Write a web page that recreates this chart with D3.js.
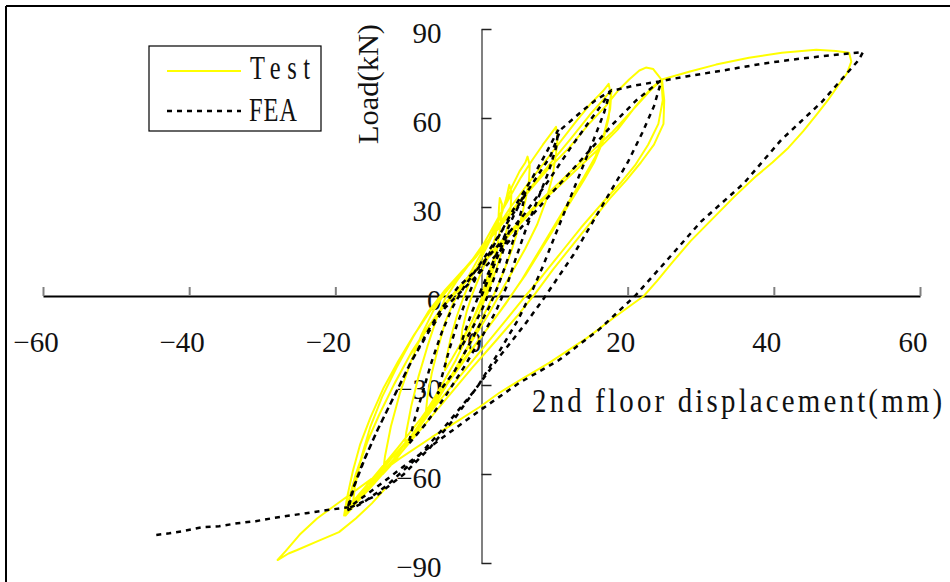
<!DOCTYPE html>
<html>
<head>
<meta charset="utf-8">
<script src="https://cdn.jsdelivr.net/npm/d3@7"></script>
<style>
  html, body { margin: 0; padding: 0; background: #fff; }
  svg { display: block; }
</style>
</head>
<body>
<svg id="chart" width="950" height="582"></svg>
<script>
// ---------- data ----------
const xTicks = [-60, -40, -20, 0, 20, 40, 60];
const yTicks = [-90, -60, -30, 0, 30, 60, 90];
const seriesNames = ["Test", "FEA"];
const xTitle = "2nd floor displacement(mm)";
const yTitle = "Load(kN)";

// Test hysteresis (displacement mm, load kN)
const testCurve = [
  [0,0],[0.6,5],[1.3,10],[2.0,15],[2.2,17],[2.0,13],[1.4,7],[0.6,1],[-0.6,-5],[-1.8,-11],[-2.8,-15],
  [-2.6,-11],[-2.0,-5],[-1.2,1],[-0.2,7],[0.9,13],[1.8,19],[2.3,25],[2.4,30],[2.5,33],[2.8,31],[2.7,26],
  [2.4,20],[1.8,13],[1.0,6],[0.0,-1],[-1.2,-8],[-2.6,-15],[-4.0,-21],[-5.0,-25],[-4.8,-21],[-4.2,-14],
  [-3.4,-7],[-2.4,0],[-1.2,7],[0.2,14],[1.6,21],[2.8,28],[3.4,33],[3.8,37.5],[4.1,35],[4.0,30],[3.6,24],
  [2.9,16],[2.0,9],[1.0,2],[-0.4,-6],[-2.0,-14],[-3.6,-22],[-5.2,-29],[-6.6,-35],[-7.6,-39],
  [-7.4,-34],[-6.8,-26],[-6.0,-18],[-5.0,-9],[-3.8,-2],[-2.4,4],[-0.8,11],[0.8,18],[2.2,25],[3.2,31],
  [4.2,37],[5.2,42],[6.0,45],[6.3,47],[6.6,44],[6.5,39],[6.0,32],[5.2,24],[4.2,16],[3.0,8],[1.8,1],
  [0.4,-6],[-1.2,-14],[-3.0,-22],[-5.0,-31],[-7.0,-39],[-9.0,-46],[-10.5,-51],
  [-10.3,-46],[-9.6,-37],[-8.6,-27],[-7.4,-17],[-6.2,-8],[-5.0,-1],[-3.4,5],[-1.6,11],[0.4,18],[2.2,26],
  [3.8,33],[5.4,40],[7.0,46],[8.4,51],[9.6,55],[10.2,57],[10.4,53],[10.2,48],[9.7,40],[8.8,32],[7.6,24],
  [6.0,16],[4.4,9],[2.8,2],[1.0,-6],[-1.0,-14],[-3.2,-23],[-5.4,-32],[-7.6,-41],[-9.8,-49],[-12.0,-56],[-13.5,-60],
  [-13.2,-54],[-12.4,-44],[-11.2,-33],[-9.8,-23],[-8.2,-13],[-6.6,-5],[-5.0,1],[-3.0,7],[-0.8,13],[1.6,21],
  [4.0,30],[6.4,38],[8.6,45],[10.8,52],[13.0,59],[15.0,65],[16.6,69],[17.4,71.5],[17.7,68],[17.4,60],
  [16.6,52],[15.4,45],[14.0,39],[12.0,31],[10.0,23],[8.0,15],[6.0,7],[4.0,0],[2.0,-7],[-0.4,-15],[-3.0,-24],
  [-6.0,-34],[-9.0,-45],[-12.0,-55],[-14.8,-63],[-16.6,-68],[-17.6,-70],
  [-17.3,-64],[-16.4,-54],[-15.2,-44],[-13.6,-34],[-11.6,-24],[-9.4,-14],[-7.2,-5],[-5.0,2],[-2.4,9],[0.4,17],
  [3.2,26],[6.2,35],[9.2,44],[12.2,53],[14.8,61],[16.6,66],[17.8,69.5],[17.6,63],[16.8,55],[15.6,47],[14.0,40],
  [12.0,32],[9.8,23],[7.6,14],[5.4,5],[3.2,-3],[0.8,-11],[-2.0,-20],[-5.0,-30],[-8.2,-41],[-11.4,-51],
  [-14.4,-60],[-16.8,-67],[-18.2,-71],[-18.8,-74],
  [-18.4,-68],[-17.6,-59],[-16.6,-50],[-15.2,-41],[-13.4,-31],[-11.4,-22],[-9.2,-13],[-7.0,-5],[-4.8,2],
  [-2.4,9],[0.4,17],[3.4,26],[6.4,35],[9.2,43],[12.0,50],[14.7,58],[17.0,64],[18.6,69],[20.2,73],[21.6,76],
  [22.5,77],[23.5,76.5],[24.6,73],[24.8,66],[24.2,58],[22.8,51],[21.0,44],[19.0,38],[16.4,31],[13.6,23],
  [11.0,15],[8.4,7],[6.0,0],[3.4,-8],[0.4,-17],[-2.6,-26],[-6.0,-36],[-9.2,-46],[-12.4,-55],[-15.4,-64],
  [-17.6,-70],[-18.6,-74],
  [-18.2,-69],[-17.2,-60],[-15.8,-50],[-14.0,-40],[-12.0,-30],[-9.8,-20],[-7.4,-11],[-5.0,-3],[-2.4,4],
  [0.6,12],[4.0,21],[7.4,30],[10.6,37],[13.6,44],[16.2,50],[18.6,56],[21.1,64],[23.2,70],[24.7,73],[25.0,66],
  [24.9,58],[23.6,51],[21.8,45],[19.8,39],[17.6,33],[15.0,25],[12.4,17],[9.8,9],[7.4,1],[4.8,-7],[2.0,-15],
  [-1.2,-24],[-4.6,-34],[-8.0,-44],[-11.4,-54],[-14.6,-63],[-17.2,-70],[-18.6,-74],
  [-18.0,-68],[-17.0,-59],[-15.6,-49],[-13.8,-39],[-11.8,-29],[-9.6,-19],[-7.2,-10],[-4.8,-2],[-2.0,6],
  [1.0,14],[4.4,23],[8.0,32],[11.4,40],[14.8,48],[17.8,55],[20.8,63],[23.0,69],[24.7,73],[28.4,75.6],
  [32.1,78],[36.6,80.3],[41.1,82],[45.8,83],[48.5,82.6],[50.3,82],[50.6,79],[50.0,75],[48.8,71],[47.4,66],
  [45.8,61],[44.0,55.5],[42.0,50],[39.8,45],[37.4,40],[34.6,33.5],[31.6,26],[28.6,18.5],[26.0,11],[24.0,5],
  [22.2,0],[18.0,-7.5],[14.4,-14.2],[9.2,-22.6],[5.5,-28],[2.4,-32.7],[-0.3,-37.5],[-3.5,-42.5],[-6.8,-47.6],
  [-11.3,-55],[-15.8,-63],[-20.4,-71.2],[-22.5,-75],[-24.9,-80.5],[-26.8,-86],[-27.9,-89],
  [-26.4,-86.8],[-25.3,-85.7],[-22.4,-82.6],[-19.5,-79.6],[-17.2,-75],[-15.0,-69.9],[-13.2,-65]
];

// FEA hysteresis (displacement mm, load kN)
const feaCurve = [
  [0,0],[1.5,9],[3,18],[3.8,22],[3.2,17],[2.0,8],[1.0,1],[0,-5],[-1.5,-12],[-3,-18],[-2.4,-13],[-1.4,-6],
  [-0.4,0],[0.8,7],[2.4,16],[4.2,26],[6.0,35],[5.6,30],[4.6,21],[3.4,11],[2.2,3],[1.0,-4],[-1.4,-15],
  [-3.6,-25],[-6.0,-33],[-5.4,-27],[-4.4,-18],[-3.4,-10],[-2.2,-2],[-0.8,6],[1.0,14],[3.0,23],[5.0,32],
  [7.0,40],[8.8,48],[10.5,56],[10.2,50],[9.2,42],[7.6,32],[6.0,22],[4.6,12],[3.4,3],[2.0,-5],[0,-14],
  [-2.4,-24],[-5.0,-34],[-7.6,-43],[-10.0,-50],[-9.2,-42],[-8.0,-32],[-6.8,-22],[-5.4,-12],[-4.0,-4],
  [-2.4,3],[-0.4,10],[2.0,19],[4.4,28],[7.0,38],[9.4,47],[10.8,56],[13.6,62],[15.6,66],[17.6,69],[16.8,62],
  [15.4,53],[13.6,42],[11.8,31],[10.0,20],[8.4,10],[6.8,1],[5.0,-8],[2.6,-18],[-0.4,-30],[-3.6,-41],
  [-7.0,-51],[-10.6,-60],[-14.2,-67],[-17.2,-70.5],[-18.2,-71.5],[-17.4,-64],[-16.0,-55],[-14.2,-45],
  [-12.2,-35],[-10.0,-24],[-7.6,-13],[-5.4,-4],[-3.2,3],[-0.6,9],[2.6,18],[6.0,28],[9.2,39],[12.2,50],
  [14.8,59],[16.6,65],[17.6,69],[21.0,71],[24.6,72.4],[23.6,64],[22.0,55],[20.0,45],[17.6,35],[15.0,24],
  [12.6,14],[10.4,6],[8.2,-2],[5.8,-10],[2.6,-20],[-1.0,-32],[-5.0,-44],[-9.0,-55],[-13.0,-64],[-16.4,-70],
  [-18.4,-72.3],[-17.6,-65],[-16.2,-56],[-14.2,-45],[-12.0,-34],[-9.6,-22],[-7.2,-12],[-5.0,-4],[-2.6,2],
  [0.2,9],[3.6,18],[7.2,28],[10.8,38],[14.4,48],[18.0,58],[21.2,66],[24.4,72.4],[28,74],[33,76],[38.4,78.3],
  [43.5,80],[48.5,81.3],[52.2,82.2],[51.6,79.5],[49.8,74.5],[46.6,65.5],[41,52.6],[35.9,38],[30,25],[25,11],
  [21,0],[16,-11.5],[10.6,-21.6],[5.1,-29.4],[-0.75,-39.5],[-5.8,-48.6],[-9.5,-55.3],[-14.4,-64.5],
  [-18.1,-71.2],[-21.3,-72.2],[-24,-73.2],[-28.6,-74.9],[-30.9,-75.9],[-33.4,-76.6],[-35.9,-77.6],
  [-38.2,-77.9],[-41,-79.3],[-42.7,-80],[-45.1,-80.7]
];

// ---------- chart ----------
const svg = d3.select("#chart");
const x = d3.scaleLinear().domain([-60, 60]).range([43, 920]);
const y = d3.scaleLinear().domain([-90, 90]).range([563, 29]);

// outer frame (top & left edges visible)
svg.append("line").attr("x1", 6).attr("x2", 950).attr("y1", 6).attr("y2", 6)
  .attr("stroke", "#000").attr("stroke-width", 2);
svg.append("line").attr("x1", 6).attr("x2", 6).attr("y1", 6).attr("y2", 582)
  .attr("stroke", "#000").attr("stroke-width", 2);

// x axis (ticks upward)
const gx = svg.append("g").attr("transform", `translate(0,${y(0)})`)
  .call(d3.axisTop(x).tickValues(xTicks).tickSize(9).tickSizeOuter(0).tickFormat(""));
gx.select(".domain").attr("stroke", "#000").attr("stroke-width", 2);
gx.selectAll(".tick line").attr("stroke", "#808080").attr("stroke-width", 2);

// y axis (ticks to the right)
const gy = svg.append("g").attr("transform", `translate(${x(0)},0)`)
  .call(d3.axisRight(y).tickValues(yTicks).tickSize(10).tickSizeOuter(0).tickFormat(""));
gy.select(".domain").attr("stroke", "#808080").attr("stroke-width", 2);
gy.selectAll(".tick line").attr("stroke", "#222").attr("stroke-width", 1.5);

const fmt = v => (v < 0 ? "\u2212" + Math.abs(v) : String(v));
const serif = "'Liberation Serif', 'Times New Roman', serif";

// x tick labels
svg.append("g").selectAll("text").data(xTicks).join("text")
  .attr("x", d => x(d) - 7).attr("y", y(0) + 56)
  .attr("text-anchor", "middle")
  .attr("font-family", serif)
  .attr("font-size", 29).attr("fill", "#111")
  .text(fmt);

// y tick labels
svg.append("g").selectAll("text").data(yTicks).join("text")
  .attr("x", x(0) - 40).attr("y", d => y(d) + 14)
  .attr("text-anchor", "end")
  .attr("font-family", serif)
  .attr("font-size", 29).attr("fill", "#111")
  .text(fmt);

// letter-spaced, condensed serif text (mimics the fixed-pitch Song face of the original)
function spacedText(parent, str, x0, baseline, width, size, sx) {
  const t = parent.append("text")
    .attr("transform", `translate(${x0},${baseline}) scale(${sx},1)`)
    .attr("x", 0).attr("y", 0)
    .attr("font-family", serif)
    .attr("font-size", size).attr("fill", "#111")
    .text(str);
  const w = t.node().getComputedTextLength();
  const ls = Math.max(0, (width / sx - w) / Math.max(1, str.length - 1));
  t.attr("letter-spacing", ls.toFixed(2));
  return t;
}

// axis titles
spacedText(svg, xTitle, 532, 412, 410, 34, 0.85);

svg.append("text")
  .attr("transform", "translate(378,144) rotate(-90)")
  .attr("font-family", serif)
  .attr("font-size", 30).attr("fill", "#111")
  .attr("textLength", 120).attr("lengthAdjust", "spacingAndGlyphs")
  .text(yTitle);

// curves
const line = d3.line().x(d => x(d[0])).y(d => y(d[1])).curve(d3.curveLinear);
svg.append("path").datum(testCurve).attr("d", line)
  .attr("fill", "none").attr("stroke", "#ffff00").attr("stroke-width", 2)
  .attr("stroke-linejoin", "round");
svg.append("path").datum(feaCurve).attr("d", line)
  .attr("fill", "none").attr("stroke", "#000").attr("stroke-width", 2.5)
  .attr("stroke-dasharray", "5,5");

// legend
const lg = svg.append("g");
lg.append("rect").attr("x", 149).attr("y", 46).attr("width", 172).attr("height", 85)
  .attr("fill", "#fff").attr("stroke", "#000").attr("stroke-width", 1.2);
lg.append("line").attr("x1", 167).attr("x2", 241).attr("y1", 71).attr("y2", 71)
  .attr("stroke", "#ffff00").attr("stroke-width", 2);
lg.append("line").attr("x1", 167).attr("x2", 241).attr("y1", 111).attr("y2", 111)
  .attr("stroke", "#000").attr("stroke-width", 2.5).attr("stroke-dasharray", "5,5");
spacedText(lg, seriesNames[0], 250, 79, 60, 34, 0.72);
spacedText(lg, seriesNames[1], 249, 121, 48, 34, 0.72);
</script>
</body>
</html>
